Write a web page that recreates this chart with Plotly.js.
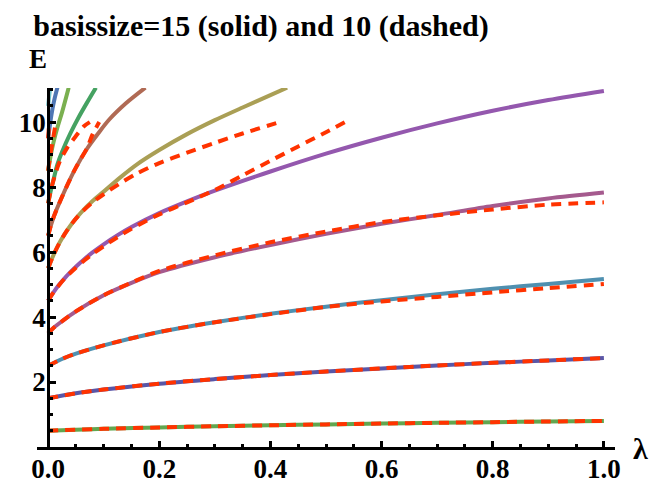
<!DOCTYPE html>
<html>
<head>
<meta charset="utf-8">
<script src="https://cdn.plot.ly/plotly-3.0.1.min.js"></script>
<style>html,body{margin:0;padding:0;background:#fff;}#chart{width:652px;height:485px;}</style>
</head>
<body>
<div id="chart"></div>
<script>
// ---- basissize = 15 (solid) ----
const s0L = [0, 0.05, 0.1, 0.2, 0.3, 0.4, 0.5, 0.6, 0.7, 0.8, 0.9, 1.0];
const s0E = [0.5, 0.533, 0.559, 0.602, 0.638, 0.669, 0.696, 0.721, 0.744, 0.765, 0.785, 0.804];
const s1L = [0, 0.05, 0.1, 0.2, 0.3, 0.4, 0.5, 0.6, 0.7, 0.8, 0.9, 1.0];
const s1E = [1.5, 1.653, 1.77, 1.95, 2.09, 2.215, 2.324, 2.42, 2.51, 2.59, 2.665, 2.738];
const s2L = [0, 0.025, 0.05, 0.1, 0.2, 0.3, 0.4, 0.5, 0.6, 0.7, 0.8, 0.9, 1.0];
const s2E = [2.5, 2.71, 2.874, 3.13, 3.54, 3.84, 4.10, 4.32, 4.52, 4.70, 4.87, 5.02, 5.17];
const s3L = [0, 0.01, 0.025, 0.05, 0.1, 0.15, 0.2, 0.3, 0.4, 0.5, 0.6, 0.7, 0.8, 0.9, 1.0];
const s3E = [3.5, 3.67, 3.87, 4.176, 4.67, 5.05, 5.38, 5.84, 6.22, 6.56, 6.87, 7.14, 7.42, 7.65, 7.83];
const s4L = [0, 0.005, 0.01, 0.02, 0.03, 0.04, 0.05, 0.065, 0.08, 0.1, 0.125, 0.15, 0.2, 0.25, 0.3, 0.4, 0.5, 0.6, 0.7, 0.8, 0.9, 1.0];
const s4E = [4.5, 4.64, 4.77, 5.0, 5.2, 5.38, 5.55, 5.78, 5.99, 6.24, 6.52, 6.77, 7.2, 7.56, 7.89, 8.48, 9.03, 9.52, 9.96, 10.35, 10.68, 10.96];
const s5L = [0, 0.01, 0.02, 0.03, 0.04, 0.05, 0.06, 0.08, 0.1, 0.13, 0.16, 0.2, 0.25, 0.3, 0.35, 0.4, 0.43];
const s5E = [5.5, 5.92, 6.27, 6.56, 6.81, 7.03, 7.23, 7.57, 7.86, 8.3, 8.7, 9.14, 9.63, 10.06, 10.45, 10.83, 11.06];
const s6L = [0, 0.005, 0.01, 0.02, 0.035, 0.05, 0.07, 0.09, 0.11, 0.14, 0.175];
const s6E = [6.5, 6.82, 7.08, 7.5, 8.08, 8.6, 9.18, 9.65, 10.08, 10.58, 11.06];
const s7L = [0, 0.005, 0.01, 0.0167, 0.025, 0.04, 0.055, 0.07, 0.086];
const s7E = [7.5, 7.9, 8.25, 8.7, 9.08, 9.65, 10.15, 10.6, 11.06];
const s8L = [0, 0.005, 0.01, 0.017, 0.025, 0.037];
const s8E = [8.5, 9.0, 9.4, 9.85, 10.3, 11.06];
const s9L = [0, 0.004, 0.008, 0.012, 0.017];
const s9E = [9.5, 10.0, 10.42, 10.75, 11.08];
const s10L = [0, 0.002, 0.0038];
const s10E = [10.5, 10.82, 11.08];

// ---- basissize = 10 (dashed) ----
const d0L = s0L, d0E = s0E;
const d1L = s1L, d1E = s1E;
const d2L = [0, 0.025, 0.05, 0.1, 0.2, 0.3, 0.4, 0.5, 0.6, 0.7, 0.8, 0.9, 1.0];
const d2E = [2.5, 2.71, 2.874, 3.13, 3.54, 3.84, 4.09, 4.31, 4.48, 4.62, 4.76, 4.89, 5.02];
const d3L = [0, 0.01, 0.025, 0.05, 0.1, 0.15, 0.2, 0.3, 0.4, 0.5, 0.6, 0.7, 0.8, 0.9, 1.0];
const d3E = [3.5, 3.67, 3.87, 4.176, 4.67, 5.06, 5.42, 5.9, 6.3, 6.63, 6.92, 7.13, 7.31, 7.46, 7.53];
const d4L = [0, 0.005, 0.01, 0.02, 0.03, 0.04, 0.05, 0.065, 0.08, 0.1, 0.125, 0.15, 0.2, 0.25, 0.3, 0.35, 0.4, 0.45, 0.5, 0.537];
const d4E = [4.5, 4.64, 4.77, 4.99, 5.19, 5.36, 5.52, 5.74, 5.94, 6.18, 6.46, 6.72, 7.16, 7.53, 7.91, 8.36, 8.81, 9.25, 9.69, 10.03];
const d5L = [0, 0.01, 0.02, 0.03, 0.04, 0.05, 0.06, 0.08, 0.1, 0.13, 0.16, 0.2, 0.25, 0.3, 0.35, 0.417];
const d5E = [5.5, 5.92, 6.27, 6.56, 6.81, 7.03, 7.22, 7.53, 7.78, 8.12, 8.42, 8.74, 9.06, 9.36, 9.65, 10.0];
const d6L = [0, 0.005, 0.01, 0.02, 0.035, 0.05, 0.06, 0.07, 0.08, 0.092];
const d6E = [6.5, 6.82, 7.08, 7.5, 8.08, 8.6, 8.9, 9.2, 9.62, 10.0];
const d7L = [0, 0.005, 0.01, 0.02, 0.034, 0.05, 0.065, 0.075];
const d7E = [7.5, 7.9, 8.23, 8.75, 9.2, 9.57, 9.88, 10.0];
const d8L = [0, 0.005, 0.01, 0.014];
const d8E = [8.5, 9.1, 9.6, 10.0];
const d9L = [0, 0.002];
const d9E = [9.5, 10.0];

const xTickVals = [0, 0.2, 0.4, 0.6, 0.8, 1.0];
const xTickText = ['0.0', '0.2', '0.4', '0.6', '0.8', '1.0'];
const yTickVals = [2, 4, 6, 8, 10];
const yTickText = ['2', '4', '6', '8', '10'];

const solidColors = ['#62a64f', '#5a56a6', '#4f90b0', '#a55a8e', '#9458ae', '#aa9f55', '#b06a54', '#45a262', '#7ab050', '#4f76b4', '#6fc1c9'];
const solidSets = [[s0L,s0E],[s1L,s1E],[s2L,s2E],[s3L,s3E],[s4L,s4E],[s5L,s5E],[s6L,s6E],[s7L,s7E],[s8L,s8E],[s9L,s9E],[s10L,s10E]];
const dashedSets = [[d0L,d0E],[d1L,d1E],[d2L,d2E],[d3L,d3E],[d4L,d4E],[d5L,d5E],[d6L,d6E],[d7L,d7E],[d8L,d8E],[d9L,d9E]];

const traces = [];
solidSets.forEach((s, i) => {
  traces.push({x: s[0], y: s[1], type: 'scatter', mode: 'lines', hoverinfo: 'skip',
    line: {color: solidColors[i], width: 4, shape: 'spline', smoothing: 0.8}, showlegend: false});
});
dashedSets.forEach((s) => {
  traces.push({x: s[0], y: s[1], type: 'scatter', mode: 'lines', hoverinfo: 'skip',
    line: {color: '#ff3300', width: 4, dash: '10px,7px', shape: 'spline', smoothing: 0.8}, showlegend: false});
});

const SERIF = 'Liberation Serif';
const tickFont = {family: SERIF, size: 27, color: 'black', weight: 700};

const layout = {
  width: 652, height: 485,
  margin: {l: 37, r: 37, t: 88, b: 38, pad: 0},
  paper_bgcolor: 'white', plot_bgcolor: 'white',
  showlegend: false,
  font: {family: SERIF},
  title: {text: 'basissize=15 (solid) and 10 (dashed)', font: {family: SERIF, size: 30, color: 'black', weight: 700},
    xref: 'container', x: 261 / 652, xanchor: 'center', yref: 'container', y: 1 - 25 / 485, yanchor: 'middle'},
  xaxis: {range: [-0.02, 1.02], showgrid: false, zeroline: false, showline: true, linecolor: 'black', linewidth: 3,
    tickmode: 'array', tickvals: xTickVals, ticktext: xTickText, ticks: 'inside', ticklen: 6, tickwidth: 3, tickcolor: 'black',
    minor: {tickmode: 'linear', tick0: 0, dtick: 0.05, ticks: 'inside', ticklen: 3, tickwidth: 3, tickcolor: 'black'},
    tickfont: tickFont, ticklabelstandoff: -4, fixedrange: true},
  yaxis: {range: [0, 11.05], showgrid: false, zeroline: false, showline: true, linecolor: 'black', linewidth: 3,
    anchor: 'free', position: 0.02 / 1.04,
    tickmode: 'array', tickvals: yTickVals, ticktext: yTickText, ticks: 'inside', ticklen: 6, tickwidth: 3, tickcolor: 'black',
    minor: {tickmode: 'linear', tick0: 0, dtick: 0.5, ticks: 'inside', ticklen: 3, tickwidth: 3, tickcolor: 'black'},
    tickfont: tickFont, ticklabelstandoff: -4, fixedrange: true},
  annotations: [
    {text: 'E', xref: 'paper', yref: 'paper', x: (37.5 - 37) / 578, y: (447 - 59) / 359, xanchor: 'center', yanchor: 'middle', showarrow: false,
      font: {family: SERIF, size: 27, color: 'black', weight: 700}},
    {text: 'λ', xref: 'paper', yref: 'paper', x: (640 - 37) / 578, y: (447 - 449) / 359, xanchor: 'center', yanchor: 'middle', showarrow: false,
      font: {family: SERIF, size: 30, color: 'black', weight: 700}}
  ]
};

Plotly.newPlot('chart', traces, layout, {displayModeBar: false, staticPlot: true});
</script>
</body>
</html>
